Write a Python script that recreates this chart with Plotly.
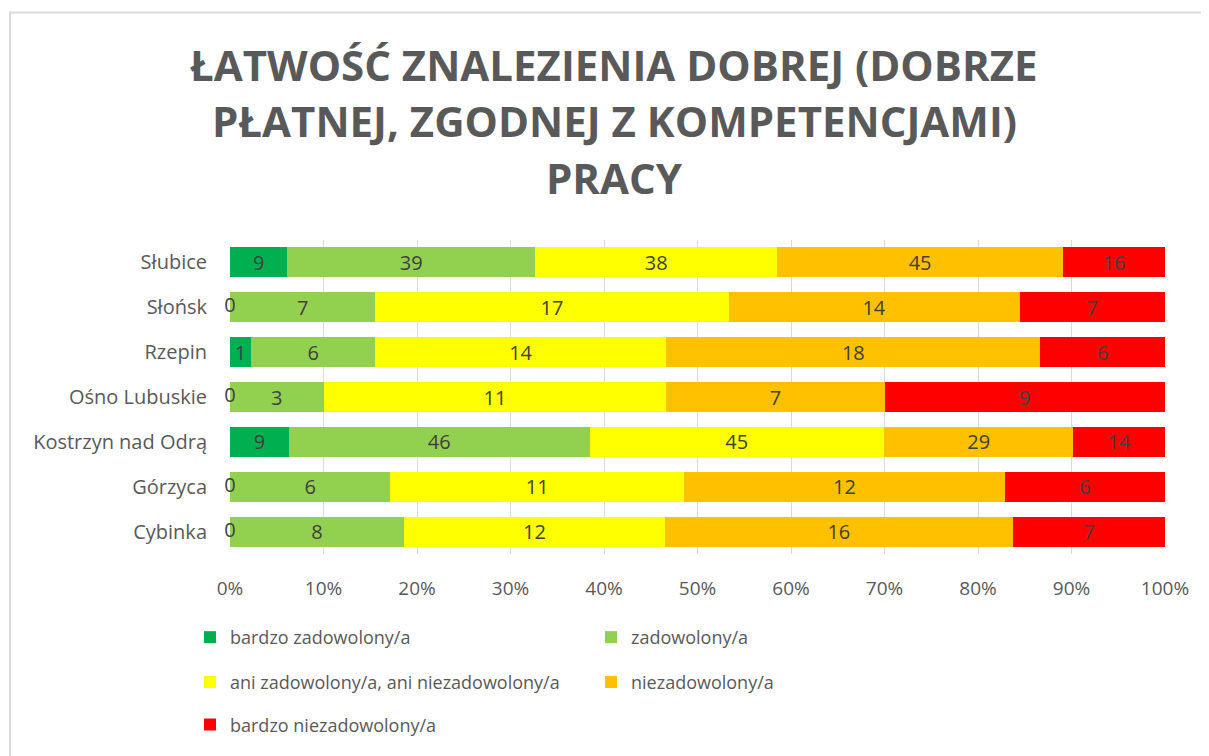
import plotly.graph_objects as go

places = ['Słubice', 'Słońsk', 'Rzepin', 'Ośno Lubuskie', 'Kostrzyn nad Odrą', 'Górzyca', 'Cybinka']

bardzo_zad = [9, 0, 1, 0, 9, 0, 0]
zad = [39, 7, 6, 3, 46, 6, 8]
ani = [38, 17, 14, 11, 45, 11, 12]
niezad = [45, 14, 18, 7, 29, 12, 16]
bardzo_niezad = [16, 7, 6, 9, 14, 6, 7]

series_names = ['bardzo zadowolony/a', 'zadowolony/a', 'ani zadowolony/a, ani niezadowolony/a',
                'niezadowolony/a', 'bardzo niezadowolony/a']
colors = ['#00B050', '#92D050', '#FFFF00', '#FFC000', '#FF0000']
legend_ids = ['legend', 'legend', 'legend2', 'legend2', 'legend3']

title_lines = ['ŁATWOŚĆ ZNALEZIENIA DOBREJ (DOBRZE', 'PŁATNEJ, ZGODNEJ Z KOMPETENCJAMI)', 'PRACY']
x_ticks = list(range(0, 101, 10))
x_labels = [f'{v}%' for v in x_ticks]

FONT = 'Open Sans'
GREY = '#595959'

fig = go.Figure()

for name, vals, col, lg in zip(series_names, [bardzo_zad, zad, ani, niezad, bardzo_niezad], colors, legend_ids):
    fig.add_trace(go.Bar(
        y=places, x=vals, orientation='h', name=name,
        marker=dict(color=col, line=dict(width=0)),
        text=[str(v) if v else '' for v in vals],
        textposition='inside', insidetextanchor='middle', constraintext='none',
        textangle=0,
        textfont=dict(family=FONT, size=20, color='#404040'),
        legend=lg, hoverinfo='skip'
    ))

# zero counts are shown at the start of the bar
zero_places = [p for p, v in zip(places, bardzo_zad) if v == 0]
fig.add_trace(go.Scatter(
    y=zero_places, x=[0] * len(zero_places), mode='text',
    text=['0'] * len(zero_places), textposition='middle center',
    textfont=dict(family=FONT, size=20, color='#404040'),
    cliponaxis=False, showlegend=False, hoverinfo='skip'
))

# page body adds an 8px offset, so the figure is a bit smaller than the window
OFF = 8
W, H = 1209 - OFF, 756 - OFF
l, r, t, b = 230 - OFF, 44, 240 - OFF, 200
pw, ph = W - l - r, H - t - b


def px_x(x):
    return (x - OFF - l) / pw


def px_y(y):
    return (H - b - (y - OFF)) / ph


for line, yc in zip(title_lines, [63, 120, 177]):
    fig.add_annotation(
        text=line, xref='paper', yref='paper', x=px_x(614), y=px_y(yc),
        xanchor='center', yanchor='middle', showarrow=False,
        font=dict(family=FONT, size=42, color=GREY, weight='bold')
    )

fig.add_shape(type='rect', xref='paper', yref='paper',
              x0=px_x(10), x1=px_x(1230), y0=px_y(780), y1=px_y(11),
              line=dict(color='#D9D9D9', width=2), fillcolor='rgba(0,0,0,0)', layer='below')

leg_common = dict(orientation='h', xanchor='left', yanchor='middle', entrywidth=356,
                  itemwidth=30, font=dict(family=FONT, size=18, color=GREY),
                  bgcolor='rgba(0,0,0,0)', traceorder='normal')

fig.update_layout(
    width=W, height=H,
    margin=dict(l=l, r=r, t=t, b=b),
    paper_bgcolor='white', plot_bgcolor='white',
    barmode='stack', barnorm='percent', bargap=0.33,
    showlegend=True,
    legend=dict(x=px_x(190), y=px_y(640), **leg_common),
    legend2=dict(x=px_x(190), y=px_y(685), **leg_common),
    legend3=dict(x=px_x(190), y=px_y(728), **leg_common),
    xaxis=dict(range=[0, 100], tickvals=x_ticks, ticktext=x_labels,
               showgrid=True, gridcolor='#D9D9D9', gridwidth=1,
               zeroline=False, showline=False,
               tickfont=dict(family=FONT, size=19, color=GREY), ticklabelstandoff=21),
    yaxis=dict(autorange='reversed', showgrid=False, showline=False,
               tickfont=dict(family=FONT, size=20, color=GREY), ticklabelstandoff=22),
)

fig.write_html('out.html')
